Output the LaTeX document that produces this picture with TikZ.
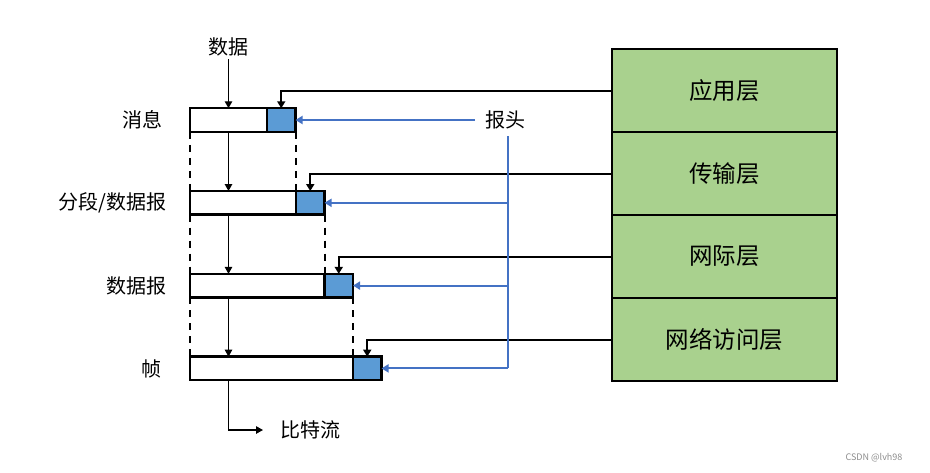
\documentclass[tikz,border=0pt]{standalone}
\usepackage{fontspec}
\newfontfamily\cjk{Noto Sans CJK SC}
\usetikzlibrary{arrows.meta,calc}
\definecolor{layergreen}{RGB}{169,209,142}
\definecolor{hdrblue}{RGB}{91,155,213}
\definecolor{lineblue}{RGB}{68,114,196}
\begin{document}
\begin{tikzpicture}[x=1pt,y=-1pt,
  lbl/.style={font=\cjk\fontsize{20}{23}\selectfont, inner sep=3pt},
  body/.style={draw, line width=2.4pt, fill=white, minimum height=23.5pt, inner sep=0pt, outer sep=0pt, anchor=west},
  hdr/.style={draw, line width=2.4pt, fill=hdrblue, minimum width=28.5pt, minimum height=23.5pt, inner sep=0pt, outer sep=0pt, anchor=west},
  layer/.style={draw, line width=2.4pt, fill=layergreen, minimum width=225pt, minimum height=83pt, inner sep=0pt, outer sep=0pt, font=\cjk\fontsize{23.5}{26}\selectfont},
  flow/.style={line width=1.2pt, -{Triangle[length=7pt,width=7.5pt]}},
  conn/.style={line width=2pt, -{Triangle[length=7pt,width=8pt]}},
  bl/.style={draw=lineblue, line width=2pt},
  blarrow/.style={draw=lineblue, line width=2pt, -{Triangle[length=7pt,width=8pt]}, lineblue},
  dashguide/.style={line width=2pt, dash pattern=on 7pt off 6pt}
]
\useasboundingbox (0,0) rectangle (930,472);

% frames
\node[body, minimum width=77pt] (b1) at (190,120) {};
\node[hdr] (h1) at (b1.east) {};
\node[body, minimum width=106pt] (b2) at (190,202.8) {};
\node[hdr] (h2) at (b2.east) {};
\node[body, minimum width=134.5pt] (b3) at (190,285.6) {};
\node[hdr] (h3) at (b3.east) {};
\node[body, minimum width=163pt] (b4) at (190,368.4) {};
\node[hdr] (h4) at (b4.east) {};

% left labels
\node[lbl, anchor=east] (m1) at (166,120) {消息};
\node[lbl, anchor=east] (m2) at (170,203) {分段/数据报};
\node[lbl, anchor=east] (m3) at (169.5,286) {数据报};
\node[lbl, anchor=east] (m4) at (165,369) {帧};

% data label and flow
\node[lbl] (d) at (228.5,47) {数据};
\node[lbl, anchor=west, inner sep=0pt] (bs) at (280,430) {比特流};
\draw[flow] (d.south) -- (d |- b1.north);
\draw[flow] (d |- b1.south) -- (d |- b2.north);
\draw[flow] (d |- b2.south) -- (d |- b3.north);
\draw[flow] (d |- b3.south) -- (d |- b4.north);
\draw[flow] (d |- b4.south) |- ([xshift=-17pt]bs.west);

% dashed guides
\draw[dashguide] (b1.south west) -- (b2.north west);
\draw[dashguide] (b2.south west) -- (b3.north west);
\draw[dashguide] (b3.south west) -- (b4.north west);
\draw[dashguide] (h1.south east) -- (h1.south east |- b2.north);
\draw[dashguide] (h2.south east) -- (h2.south east |- b3.north);
\draw[dashguide] (h3.south east) -- (h3.south east |- b4.north);

% layers
\node[layer] (l1) at (724.5,90.5) {应用层};
\node[layer] (l2) at (724.5,173.5) {传输层};
\node[layer] (l3) at (724.5,256.5) {网际层};
\node[layer] (l4) at (724.5,339.5) {网络访问层};

\draw[conn] (l1.west) -| (h1.north);
\draw[conn] (l2.west) -| (h2.north);
\draw[conn] (l3.west) -| (h3.north);
\draw[conn] (l4.west) -| (h4.north);

% header label and blue lines
\node[lbl, anchor=west, inner sep=0pt] (hl) at (485,120) {报头};
\coordinate (vt) at (508,136);
\draw[blarrow] ([xshift=-10pt]hl.west) -- (h1.east);
\draw[bl] (vt) -- (vt |- h4.east);
\draw[blarrow] (vt |- h2.east) -- (h2.east);
\draw[blarrow] (vt |- h3.east) -- (h3.east);
\draw[blarrow] (vt |- h4.east) -- (h4.east);

% watermark
\node[font=\cjk\fontsize{9}{10}\selectfont, text=black!45] (wm) at (874,458) {CSDN @lvh98};
\end{tikzpicture}
\end{document}
